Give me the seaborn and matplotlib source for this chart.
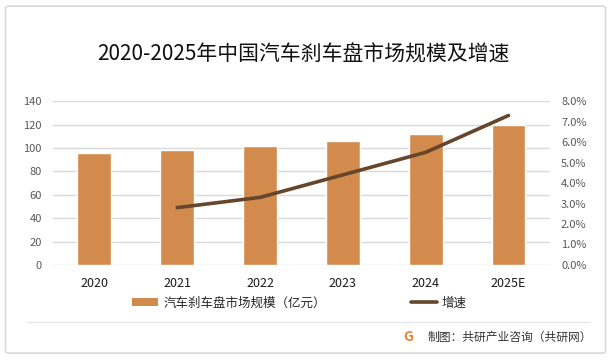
import numpy as np
import pandas as pd
import matplotlib
matplotlib.use("Agg")
import matplotlib.pyplot as plt
from matplotlib.patches import FancyBboxPatch, Patch
from matplotlib.lines import Line2D
from matplotlib.ticker import PercentFormatter
import seaborn as sns

# data
years = ["2020", "2021", "2022", "2023", "2024", "2025E"]
market_size = [95.6, 98.2, 101.6, 105.9, 111.9, 119.6]  # 亿元
growth_years = ["2021", "2022", "2023", "2024", "2025E"]
growth_rate = [2.8, 3.3, 4.4, 5.5, 7.3]  # %

bar_color = "#D38B4D"
line_color = "#65452B"

sns.set_theme(style="white")
plt.rcParams['font.family'] = ['Noto Sans CJK SC', 'DejaVu Sans']

df_bar = pd.DataFrame({"year": years, "size": market_size})
df_line = pd.DataFrame({"pos": [years.index(y) for y in growth_years], "rate": growth_rate})

fig = plt.figure(figsize=(6.11, 3.6), dpi=100)
ax = fig.add_axes([0.0867, 0.264, 0.8133, 0.455])

sns.barplot(data=df_bar, x="year", y="size", color=bar_color, width=0.41,
            saturation=1, ax=ax, zorder=2)
ax.set_ylim(0, 140)
ax.set_yticks(range(0, 141, 20))
ax.set_xlim(-0.5, 5.5)
ax.set_xlabel("")
ax.set_ylabel("")
ax.grid(axis="y", color="#D9D9D9", linewidth=1, zorder=0)
ax.tick_params(axis="y", labelsize=8, labelcolor="#595959", length=0, pad=8)
ax.tick_params(axis="x", labelsize=9, labelcolor="#1a1a1a", length=0, pad=9)
for s in ax.spines.values():
    s.set_visible(False)

ax2 = ax.twinx()
sns.lineplot(data=df_line, x="pos", y="rate", color=line_color, linewidth=2.6, ax=ax2)
ax2.set_ylim(0, 8)
ax2.set_yticks(np.arange(0, 8.1, 1))
ax2.yaxis.set_major_formatter(PercentFormatter(decimals=1))
ax2.set_xlim(-0.5, 5.5)
ax2.set_xlabel("")
ax2.set_ylabel("")
ax2.tick_params(axis="y", labelsize=8, labelcolor="#595959", length=0, pad=8)
for s in ax2.spines.values():
    s.set_visible(False)

fig.text(0.497, 0.847, "2020-2025年中国汽车刹车盘市场规模及增速", ha="center", va="center",
         fontsize=15, color="#111111")

handles = [Patch(facecolor=bar_color, edgecolor="none"),
           Line2D([0], [0], color=line_color, linewidth=2.6)]
fig.legend(handles, ["汽车刹车盘市场规模（亿元）", "增速"], loc="center",
           bbox_to_anchor=(0.49, 0.158), ncol=2, frameon=False, fontsize=9,
           handlelength=2.1, handleheight=0.6, columnspacing=6.8, handletextpad=0.4)

# footer
fig.add_artist(Line2D([0.045, 0.965], [1 - 322 / 360] * 2, color="#E6E6E6", linewidth=1))
fig.text(0.668, 1 - 337 / 360, "G", ha="center", va="center", fontsize=10,
         fontweight="bold", color="#EE7F2D")
fig.text(0.700, 1 - 337 / 360, "制图：共研产业咨询（共研网）", ha="left", va="center",
         fontsize=8.5, color="#333333")

# outer frame
fig.add_artist(FancyBboxPatch((0.009, 0.019), 0.982, 0.964,
                              boxstyle="round,pad=0,rounding_size=0.006",
                              transform=fig.transFigure, facecolor="none",
                              edgecolor="#D9D9D9", linewidth=1.2))

fig.savefig("out.png", dpi=100)
